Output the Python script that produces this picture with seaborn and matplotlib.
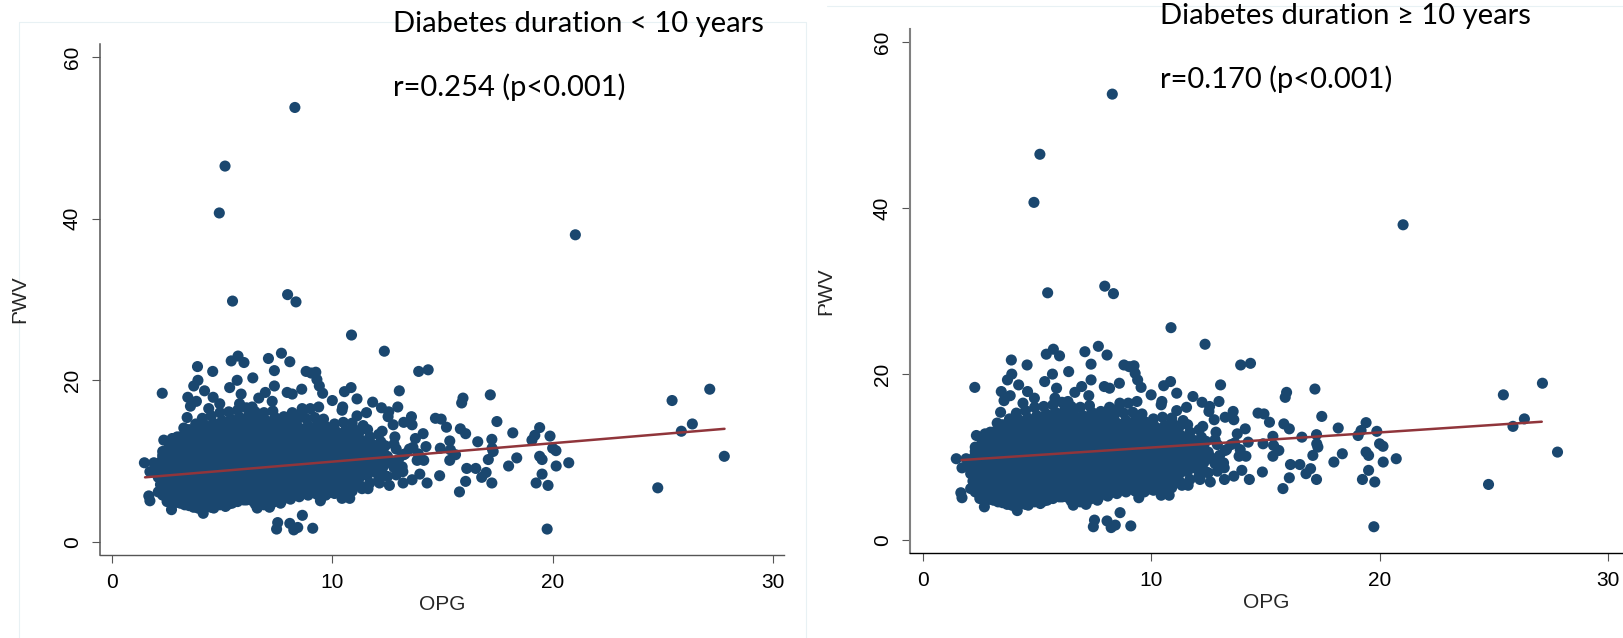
import pandas as pd
import matplotlib.pyplot as plt
from matplotlib.lines import Line2D
from matplotlib.patches import Rectangle
import seaborn as sns

# -----------------------------------------
# Data
# -----------------------------------------

# far outliers
opg_outliers = [8.3, 5.13, 4.87, 21.03, 5.47, 7.97, 8.35, 10.87, 12.36, 13.92, 14.35]
pwv_outliers = [53.75, 46.5, 40.7, 38.0, 29.8, 30.6, 29.7, 25.6, 23.6, 21.1, 21.3]

# upper edge of the cloud
opg_upper = [7.69, 7.1, 8.07, 5.72, 5.41, 5.99, 3.88, 4.57, 7.37, 6.39,
             8.81, 9.04, 9.25, 9.3, 9.41, 9.56, 2.28, 3.9, 3.71, 4.2,
             5.68, 5.34, 7.37, 8.61, 5.86, 4.59, 3.44, 6.96, 6.66, 7.95,
             8.18, 10.55, 10.85, 13.04, 11.12, 11.83, 12.23, 12.97, 12.56, 13.59,
             14.68, 14.94, 13.24, 13.62, 12.76, 10.0, 10.47, 10.44, 9.38, 9.0,
             8.63, 8.18, 7.27, 6.36, 5.79, 4.89, 4.39, 3.83, 3.56, 3.41,
             11.55, 11.12, 12.53, 3.26, 2.35, 2.73, 2.96]
pwv_upper = [23.35, 22.7, 22.3, 23.0, 22.4, 22.2, 21.7, 21.1, 21.2, 20.3,
             21.1, 20.9, 21.0, 20.1, 19.3, 18.4, 18.4, 20.0, 19.3, 18.7,
             20.0, 19.1, 19.3, 18.9, 18.3, 17.9, 17.9, 18.5, 17.8, 18.5,
             18.3, 18.6, 19.1, 18.7, 17.7, 17.3, 16.6, 16.7, 16.1, 15.5,
             15.3, 15.2, 14.8, 14.5, 14.5, 17.5, 16.7, 16.3, 16.7, 16.5,
             16.5, 16.0, 17.4, 16.7, 17.1, 17.1, 16.5, 17.4, 16.8, 15.4,
             16.0, 15.6, 15.5, 14.1, 12.6, 12.8, 13.0]

# lower edge and left tip of the cloud
opg_lower = [1.47, 1.9, 1.72, 1.67, 1.72, 2.7, 4.14, 4.62, 3.56, 2.5,
             5.15, 5.45, 5.98, 6.59, 7.15, 7.65, 7.52, 7.47, 8.07, 8.25,
             8.43, 8.64, 9.11, 9.46, 10.44, 10.79, 9.84, 11.35, 11.62, 12.14,
             12.59, 13.21, 13.62, 13.97, 14.3, 14.87]
pwv_lower = [9.8, 9.8, 8.7, 5.7, 5.1, 4.0, 3.55, 4.2, 4.6, 5.0,
             4.4, 4.8, 5.2, 4.2, 4.3, 4.8, 2.4, 1.6, 2.3, 1.5,
             1.8, 3.3, 1.7, 5.1, 5.4, 5.4, 6.1, 6.6, 6.6, 7.3,
             7.0, 7.3, 7.7, 8.4, 7.3, 8.2]

# sparse tail on the right
opg_tail = [15.93, 15.87, 17.17, 17.47, 15.18, 15.81, 16.05, 14.12, 13.77, 15.33,
            16.6, 17.24, 18.19, 19.41, 19.19, 19.06, 19.88, 20.0, 20.15, 20.73,
            20.16, 19.41, 19.52, 19.52, 19.25, 19.79, 19.75, 18.37, 18.0, 17.24,
            16.98, 16.78, 16.51, 16.1, 16.05, 15.77, 17.08, 17.3, 17.25, 15.59,
            15.33, 15.36, 14.9, 14.25, 13.66, 14.15, 13.85, 13.24, 13.17, 24.77,
            25.42, 27.13, 26.34, 25.84, 27.79, 12.84, 12.26, 12.0, 12.5, 12.9,
            13.3, 12.3, 12.8, 13.2, 12.0, 11.7, 12.4, 13.5, 13.9]
pwv_tail = [17.8, 17.2, 18.2, 14.9, 14.2, 14.0, 13.4, 13.4, 12.8, 12.5,
            12.4, 12.7, 13.5, 14.15, 13.2, 12.6, 13.1, 11.6, 11.3, 9.8,
            9.4, 10.6, 10.2, 8.4, 7.3, 7.0, 1.6, 10.4, 9.4, 7.3,
            8.6, 8.0, 9.1, 9.1, 7.5, 6.2, 10.2, 11.2, 11.6, 10.8,
            10.1, 11.4, 11.6, 11.8, 11.7, 10.1, 10.1, 10.8, 9.3, 6.7,
            17.5, 18.9, 14.6, 13.7, 10.6, 13.0, 13.7, 11.2, 10.6, 11.5,
            10.9, 9.6, 9.2, 8.7, 8.6, 8.9, 8.2, 11.5, 10.9]

# dense core, listed left to right, bottom to top
opg_core = [2.1, 2.2, 2.1, 2.0, 2.2, 2.3,
            2.5, 2.4, 2.6, 2.5, 2.4, 2.6, 2.5, 2.6,
            2.9, 3.0, 2.8, 2.9, 3.0, 2.8, 2.9, 3.0, 2.9,
            3.3, 3.2, 3.4, 3.3, 3.2, 3.4, 3.3, 3.2, 3.4, 3.3,
            3.7, 3.6, 3.8, 3.7, 3.6, 3.8, 3.7, 3.6, 3.8, 3.7, 3.6, 3.8,
            4.1, 4.0, 4.2, 4.1, 4.0, 4.2, 4.1, 4.0, 4.2, 4.1, 4.0, 4.2, 4.1,
            4.5, 4.4, 4.6, 4.5, 4.4, 4.6, 4.5, 4.4, 4.6, 4.5, 4.4, 4.6, 4.5,
            4.9, 4.8, 5.0, 4.9, 4.8, 5.0, 4.9, 4.8, 5.0, 4.9, 4.8, 5.0, 4.9,
            5.3, 5.2, 5.4, 5.3, 5.2, 5.4, 5.3, 5.2, 5.4, 5.3, 5.2, 5.4, 5.3,
            5.7, 5.6, 5.8, 5.7, 5.6, 5.8, 5.7, 5.6, 5.8, 5.7, 5.6, 5.8, 5.7,
            6.1, 6.0, 6.2, 6.1, 6.0, 6.2, 6.1, 6.0, 6.2, 6.1, 6.0, 6.2, 6.1,
            6.5, 6.4, 6.6, 6.5, 6.4, 6.6, 6.5, 6.4, 6.6, 6.5, 6.4, 6.6, 6.5,
            6.9, 6.8, 7.0, 6.9, 6.8, 7.0, 6.9, 6.8, 7.0, 6.9, 6.8, 7.0, 6.9,
            7.3, 7.2, 7.4, 7.3, 7.2, 7.4, 7.3, 7.2, 7.4, 7.3, 7.2, 7.4, 7.3,
            7.7, 7.6, 7.8, 7.7, 7.6, 7.8, 7.7, 7.6, 7.8, 7.7, 7.6, 7.8,
            8.1, 8.0, 8.2, 8.1, 8.0, 8.2, 8.1, 8.0, 8.2, 8.1, 8.0, 8.2,
            8.5, 8.4, 8.6, 8.5, 8.4, 8.6, 8.5, 8.4, 8.6, 8.5, 8.4, 8.6,
            8.9, 8.8, 9.0, 8.9, 8.8, 9.0, 8.9, 8.8, 9.0, 8.9, 8.8,
            9.3, 9.2, 9.4, 9.3, 9.2, 9.4, 9.3, 9.2, 9.4, 9.3, 9.2,
            9.7, 9.6, 9.8, 9.7, 9.6, 9.8, 9.7, 9.6, 9.8, 9.7, 9.6,
            10.1, 10.0, 10.2, 10.1, 10.0, 10.2, 10.1, 10.0, 10.2, 10.1,
            10.5, 10.4, 10.6, 10.5, 10.4, 10.6, 10.5, 10.4, 10.6, 10.5,
            10.9, 10.8, 11.0, 10.9, 10.8, 11.0, 10.9, 10.8, 11.0, 10.9,
            11.3, 11.2, 11.4, 11.3, 11.2, 11.4, 11.3, 11.2, 11.4,
            11.7, 11.6, 11.8, 11.7, 11.6, 11.8, 11.7, 11.6,
            12.1, 12.0, 12.2, 12.1, 12.0, 12.2, 12.1,
            12.5, 12.6, 12.4,
            12.9, 13.0, 12.8]
pwv_core = [6.2, 7.1, 8.0, 8.9, 9.8, 10.7,
            5.4, 6.3, 7.2, 8.2, 9.1, 10.1, 11.0, 11.9,
            4.9, 5.8, 6.8, 7.7, 8.7, 9.6, 10.6, 11.5, 12.5,
            4.6, 5.6, 6.5, 7.5, 8.4, 9.4, 10.3, 11.3, 12.2, 13.2,
            4.3, 5.3, 6.2, 7.1, 8.1, 9.0, 10.0, 10.9, 11.9, 12.8, 13.8, 14.6,
            3.9, 5.0, 6.0, 6.9, 7.9, 8.8, 9.8, 10.7, 11.7, 12.6, 13.6, 14.5, 15.3,
            4.3, 5.2, 6.2, 7.1, 8.0, 9.0, 9.9, 10.9, 11.8, 12.8, 13.7, 14.7, 15.6,
            4.6, 5.6, 6.5, 7.4, 8.4, 9.3, 10.3, 11.2, 12.2, 13.1, 14.1, 15.0, 16.0,
            4.7, 5.7, 6.6, 7.6, 8.5, 9.5, 10.4, 11.4, 12.3, 13.3, 14.2, 15.2, 16.1,
            5.0, 6.0, 6.9, 7.8, 8.8, 9.7, 10.7, 11.6, 12.6, 13.5, 14.5, 15.4, 16.3,
            5.2, 6.1, 7.1, 8.0, 9.0, 9.9, 10.9, 11.8, 12.8, 13.7, 14.7, 15.6, 16.6,
            4.7, 5.7, 6.6, 7.6, 8.5, 9.5, 10.4, 11.4, 12.3, 13.3, 14.2, 15.2, 16.1,
            4.6, 5.5, 6.5, 7.4, 8.4, 9.3, 10.3, 11.2, 12.2, 13.1, 14.1, 15.0, 16.0,
            4.9, 5.9, 6.8, 7.8, 8.7, 9.7, 10.6, 11.6, 12.5, 13.5, 14.4, 15.4, 16.2,
            5.1, 6.0, 7.0, 7.9, 8.9, 9.8, 10.8, 11.7, 12.7, 13.6, 14.6, 15.5,
            5.3, 6.3, 7.2, 8.2, 9.1, 10.1, 11.0, 12.0, 12.9, 13.9, 14.8, 15.7,
            5.6, 6.5, 7.5, 8.4, 9.4, 10.3, 11.3, 12.2, 13.2, 14.1, 15.1, 16.0,
            5.8, 6.8, 7.7, 8.7, 9.6, 10.6, 11.5, 12.5, 13.4, 14.4, 15.3,
            5.9, 6.8, 7.8, 8.7, 9.7, 10.6, 11.6, 12.5, 13.5, 14.4, 15.4,
            5.8, 6.7, 7.7, 8.6, 9.6, 10.5, 11.5, 12.4, 13.4, 14.3, 15.2,
            6.0, 7.0, 7.9, 8.9, 9.8, 10.8, 11.7, 12.7, 13.6, 14.6,
            6.2, 7.2, 8.1, 9.1, 10.0, 11.0, 11.9, 12.9, 13.8, 14.8,
            6.3, 7.3, 8.2, 9.2, 10.1, 11.1, 12.0, 13.0, 13.9, 14.7,
            6.9, 7.8, 8.8, 9.7, 10.7, 11.6, 12.6, 13.5, 14.4,
            7.3, 8.3, 9.2, 10.2, 11.1, 12.1, 13.0, 13.9,
            7.7, 8.6, 9.6, 10.5, 11.5, 12.4, 13.3,
            8.1, 10.0, 11.9,
            8.3, 10.2, 12.1]

# points between the core columns
opg_fill = [2.3, 2.3, 2.3, 2.3, 2.3, 2.3, 2.3,
            2.7, 2.7, 2.7, 2.7, 2.7, 2.7, 2.7, 2.7, 2.7,
            3.1, 3.1, 3.1, 3.1, 3.1, 3.1, 3.1, 3.1, 3.1, 3.1,
            3.5, 3.5, 3.5, 3.5, 3.5, 3.5, 3.5, 3.5, 3.5, 3.5, 3.5,
            3.9, 3.9, 3.9, 3.9, 3.9, 3.9, 3.9, 3.9, 3.9, 3.9, 3.9,
            4.3, 4.3, 4.3, 4.3, 4.3, 4.3, 4.3, 4.3, 4.3, 4.3, 4.3,
            4.7, 4.7, 4.7, 4.7, 4.7, 4.7, 4.7, 4.7, 4.7, 4.7, 4.7,
            5.1, 5.1, 5.1, 5.1, 5.1, 5.1, 5.1, 5.1, 5.1, 5.1, 5.1,
            5.5, 5.5, 5.5, 5.5, 5.5, 5.5, 5.5, 5.5, 5.5, 5.5, 5.5,
            5.9, 5.9, 5.9, 5.9, 5.9, 5.9, 5.9, 5.9, 5.9, 5.9,
            6.3, 6.3, 6.3, 6.3, 6.3, 6.3, 6.3, 6.3, 6.3, 6.3, 6.3,
            6.7, 6.7, 6.7, 6.7, 6.7, 6.7, 6.7, 6.7, 6.7, 6.7, 6.7,
            7.1, 7.1, 7.1, 7.1, 7.1, 7.1, 7.1, 7.1, 7.1, 7.1, 7.1,
            7.5, 7.5, 7.5, 7.5, 7.5, 7.5, 7.5, 7.5, 7.5, 7.5, 7.5,
            7.9, 7.9, 7.9, 7.9, 7.9, 7.9, 7.9, 7.9, 7.9, 7.9,
            8.3, 8.3, 8.3, 8.3, 8.3, 8.3, 8.3, 8.3, 8.3, 8.3,
            8.7, 8.7, 8.7, 8.7, 8.7, 8.7, 8.7, 8.7, 8.7,
            9.1, 9.1, 9.1, 9.1, 9.1, 9.1, 9.1, 9.1, 9.1,
            9.5, 9.5, 9.5, 9.5, 9.5, 9.5, 9.5, 9.5, 9.5,
            9.9, 9.9, 9.9, 9.9, 9.9, 9.9, 9.9, 9.9, 9.9,
            10.3, 10.3, 10.3, 10.3, 10.3, 10.3, 10.3, 10.3,
            10.7, 10.7, 10.7, 10.7, 10.7, 10.7, 10.7, 10.7,
            11.1, 11.1, 11.1, 11.1, 11.1, 11.1, 11.1,
            11.5, 11.5, 11.5, 11.5, 11.5,
            11.9, 11.9, 11.9, 11.9,
            12.3, 12.3,
            12.7]
pwv_fill = [5.8, 6.7, 7.6, 8.5, 9.4, 10.3, 11.2,
            5.1, 6.0, 7.0, 7.9, 8.9, 9.8, 10.8, 11.7, 12.1,
            4.8, 5.7, 6.7, 7.6, 8.6, 9.5, 10.5, 11.4, 12.4, 13.0,
            4.5, 5.4, 6.4, 7.3, 8.3, 9.2, 10.2, 11.1, 12.1, 13.0, 13.9,
            4.2, 5.1, 6.1, 7.0, 8.0, 8.9, 9.9, 10.8, 11.8, 12.7, 13.7,
            4.4, 5.3, 6.3, 7.2, 8.2, 9.1, 10.1, 11.0, 12.0, 12.9, 13.9,
            4.8, 5.7, 6.7, 7.6, 8.6, 9.5, 10.5, 11.4, 12.4, 13.3, 14.3,
            5.0, 5.9, 6.9, 7.8, 8.8, 9.7, 10.7, 11.6, 12.6, 13.5, 14.5,
            5.2, 6.1, 7.1, 8.0, 9.0, 9.9, 10.9, 11.8, 12.8, 13.7, 14.7,
            5.5, 6.4, 7.4, 8.3, 9.3, 10.2, 11.2, 12.1, 13.1, 14.0,
            5.2, 6.1, 7.1, 8.0, 9.0, 9.9, 10.9, 11.8, 12.8, 13.7, 14.7,
            5.0, 5.9, 6.9, 7.8, 8.8, 9.7, 10.7, 11.6, 12.6, 13.5, 14.5,
            5.2, 6.1, 7.1, 8.0, 9.0, 9.9, 10.9, 11.8, 12.8, 13.7, 14.7,
            5.4, 6.3, 7.3, 8.2, 9.2, 10.1, 11.1, 12.0, 13.0, 13.9, 14.9,
            5.6, 6.5, 7.5, 8.4, 9.4, 10.3, 11.3, 12.2, 13.2, 14.1,
            5.8, 6.7, 7.7, 8.6, 9.6, 10.5, 11.5, 12.4, 13.4, 14.3,
            6.1, 7.0, 8.0, 8.9, 9.9, 10.8, 11.8, 12.7, 13.7,
            6.2, 7.1, 8.1, 9.0, 10.0, 10.9, 11.9, 12.8, 13.8,
            6.2, 7.1, 8.1, 9.0, 10.0, 10.9, 11.9, 12.8, 13.8,
            6.4, 7.3, 8.3, 9.2, 10.2, 11.1, 12.1, 13.0, 14.0,
            6.6, 7.5, 8.5, 9.4, 10.4, 11.3, 12.3, 13.2,
            6.7, 7.6, 8.6, 9.5, 10.5, 11.4, 12.4, 13.3,
            7.0, 7.9, 8.9, 9.8, 10.8, 11.7, 12.7,
            8.3, 9.3, 10.2, 11.2, 12.1,
            8.8, 9.8, 10.7, 11.7,
            9.3, 11.2,
            9.7]

# fitted lines
fit_opg_left = [1.5, 27.8]
fit_pwv_left = [8.0, 14.0]
fit_opg_right = [1.7, 27.1]
fit_pwv_right = [9.64, 14.26]

x_ticks = [0, 10, 20, 30]
y_ticks = [0, 20, 40, 60]

df = pd.DataFrame({
    "OPG": opg_outliers + opg_upper + opg_lower + opg_tail + opg_core + opg_fill,
    "PWV": pwv_outliers + pwv_upper + pwv_lower + pwv_tail + pwv_core + pwv_fill,
})

# -----------------------------------------
# Style
# -----------------------------------------

sns.set_style("white")
plt.rcParams["font.family"] = ["Liberation Sans", "DejaVu Sans"]

NAVY = "#1a476f"
MAROON = "#90353b"
W, H = 1624, 638

fig = plt.figure(figsize=(W / 100, H / 100), dpi=100, facecolor="white")


def make_axes(left, right, top, bottom):
    return fig.add_axes([left / W, 1 - bottom / H, (right - left) / W, (bottom - top) / H])


def draw_panel(ax, fit_x, fit_y, xlim, ylim, label_x, left_col, bottom_col, left_w):
    sns.scatterplot(data=df, x="OPG", y="PWV", ax=ax, color=NAVY, s=64,
                    edgecolor="none", alpha=1, zorder=2)
    sns.lineplot(x=fit_x, y=fit_y, ax=ax, color=MAROON, linewidth=1.8, zorder=3)
    ax.set_xlim(xlim)
    ax.set_ylim(ylim)
    ax.set_xticks(x_ticks)
    ax.set_yticks(y_ticks)
    ax.tick_params(axis="both", length=6, width=0.8, color="#555555", labelsize=15,
                   labelcolor="black", pad=7, bottom=True, left=True)
    for t in ax.get_yticklabels():
        t.set_rotation(90)
        t.set_va("center")
    ax.set_xlabel("OPG", fontsize=15, labelpad=2)
    ax.set_ylabel("PWV", fontsize=15)
    ax.yaxis.set_label_coords(label_x, 0.5)
    ax.spines["top"].set_visible(False)
    ax.spines["right"].set_visible(False)
    ax.spines["left"].set_color(left_col)
    ax.spines["left"].set_linewidth(left_w)
    ax.spines["bottom"].set_color(bottom_col)
    ax.spines["bottom"].set_linewidth(1.0)


# -----------------------------------------
# 1. Diabetes duration < 10 years
# -----------------------------------------

ax1 = make_axes(100, 784, 44, 555.3)
draw_panel(ax1, fit_opg_left, fit_pwv_left, (-0.545, 30.5), (-1.645, 61.6),
           -0.1036, "#555555", "#555555", 1.1)

# -----------------------------------------
# 2. Diabetes duration >= 10 years
# -----------------------------------------

ax2 = make_axes(910, 1621.7, 29, 553.3)
draw_panel(ax2, fit_opg_right, fit_pwv_right, (-0.556, 30.6), (-1.6, 61.6),
           -0.1044, "#808080", "black", 1.5)

# Captions
cap = dict(family=["Lato", "DejaVu Sans"], fontsize=21, color="black", va="center", ha="left")
fig.text(393 / W, 1 - 24 / H, "Diabetes duration < 10 years", **cap)
fig.text(393 / W, 1 - 87 / H, "r=0.254 (p<0.001)", **cap)
fig.text(1160 / W, 1 - 16 / H, "Diabetes duration \u2265 10 years", **cap)
fig.text(1160 / W, 1 - 79 / H, "r=0.170 (p<0.001)", **cap)

# Faint panel borders
for xs, ys in [((19, 19), (22, 638)), ((19, 805.7), (22, 22)),
               ((805.7, 805.7), (22, 638)), ((827, 1624), (5.5, 5.5))]:
    fig.add_artist(Line2D([x / W for x in xs], [1 - y / H for y in ys],
                          color="#e8f1f4", linewidth=0.8, zorder=0))

# The y titles are partly masked in the original
for x0, y0, x1, y1 in [(17, 311, 28, 320), (825, 303, 835, 312)]:
    fig.add_artist(Rectangle((x0 / W, 1 - y1 / H), (x1 - x0) / W, (y1 - y0) / H,
                             transform=fig.transFigure, facecolor="white",
                             edgecolor="none", zorder=5))

fig.savefig("out.png", dpi=100)
